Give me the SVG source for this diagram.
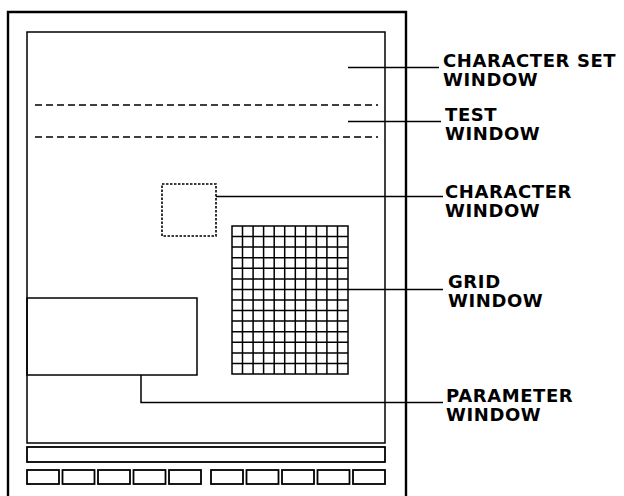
<svg xmlns="http://www.w3.org/2000/svg" width="624" height="496" viewBox="0 0 624 496">
<style>
.ln{fill:none;stroke:#000;stroke-width:1.5}
.fr{fill:none;stroke:#000;stroke-width:2.4}
.dash{fill:none;stroke:#000;stroke-width:1.4;stroke-dasharray:7,4}
.dot{fill:none;stroke:#000;stroke-width:1.6;stroke-dasharray:2.5,1.5}
.btn{fill:none;stroke:#000;stroke-width:1.8}
.lbl{font-family:"DejaVu Sans","Liberation Sans",sans-serif;font-weight:bold;font-size:18px;letter-spacing:0.6px;fill:#000}
</style>
<rect width="624" height="496" fill="#fff"/>
<g id="frame">
<path class="fr" d="M8,496 V12 H406 V496"/>
<rect class="ln" x="27" y="32" width="358" height="411"/>
</g>
<g id="character-set-window">
<text class="lbl" x="443" y="67">CHARACTER SET</text>
<text class="lbl" x="443" y="86">WINDOW</text>
</g>
<g id="test-window">
<path class="dash" d="M35,105 H378 M35,137 H378"/>
<text class="lbl" x="445" y="121">TEST</text>
<text class="lbl" x="445" y="140">WINDOW</text>
</g>
<g id="character-window">
<rect class="dot" x="162" y="184" width="54" height="52"/>
<text class="lbl" x="445" y="198">CHARACTER</text>
<text class="lbl" x="445" y="217">WINDOW</text>
</g>
<g id="grid-window">
<path class="ln" d="M232,226 H348 V374 H232 Z M242.5,226 V374 M253.1,226 V374 M263.6,226 V374 M274.2,226 V374 M284.7,226 V374 M295.3,226 V374 M305.8,226 V374 M316.4,226 V374 M326.9,226 V374 M337.5,226 V374 M232,236.6 H348 M232,247.1 H348 M232,257.7 H348 M232,268.3 H348 M232,278.9 H348 M232,289.4 H348 M232,300 H348 M232,310.6 H348 M232,321.1 H348 M232,331.7 H348 M232,342.3 H348 M232,352.9 H348 M232,363.4 H348"/>
<text class="lbl" x="448" y="288">GRID</text>
<text class="lbl" x="448" y="307">WINDOW</text>
</g>
<g id="parameter-window">
<rect class="ln" x="27" y="298" width="170" height="77"/>
<text class="lbl" x="446" y="402">PARAMETER</text>
<text class="lbl" x="446" y="421">WINDOW</text>
</g>
<g id="status-bar">
<rect class="btn" x="27" y="447" width="358" height="15"/>
</g>
<g id="function-keys">
<rect class="btn" x="27" y="470" width="32" height="14"/>
<rect class="btn" x="62.5" y="470" width="32" height="14"/>
<rect class="btn" x="98" y="470" width="32" height="14"/>
<rect class="btn" x="133.5" y="470" width="32" height="14"/>
<rect class="btn" x="169" y="470" width="32" height="14"/>
<rect class="btn" x="211" y="470" width="32" height="14"/>
<rect class="btn" x="246.5" y="470" width="32" height="14"/>
<rect class="btn" x="282" y="470" width="32" height="14"/>
<rect class="btn" x="317.5" y="470" width="32" height="14"/>
<rect class="btn" x="353" y="470" width="32" height="14"/>
</g>
<g id="connectors">
<path class="ln" d="M348,67.5 H439"/>
<path class="ln" d="M348,121.5 H441"/>
<path class="ln" d="M216,196.5 H443"/>
<path class="ln" d="M348,289.5 H443"/>
<path class="ln" d="M141,375 V402.5 H443"/>
</g>
</svg>
